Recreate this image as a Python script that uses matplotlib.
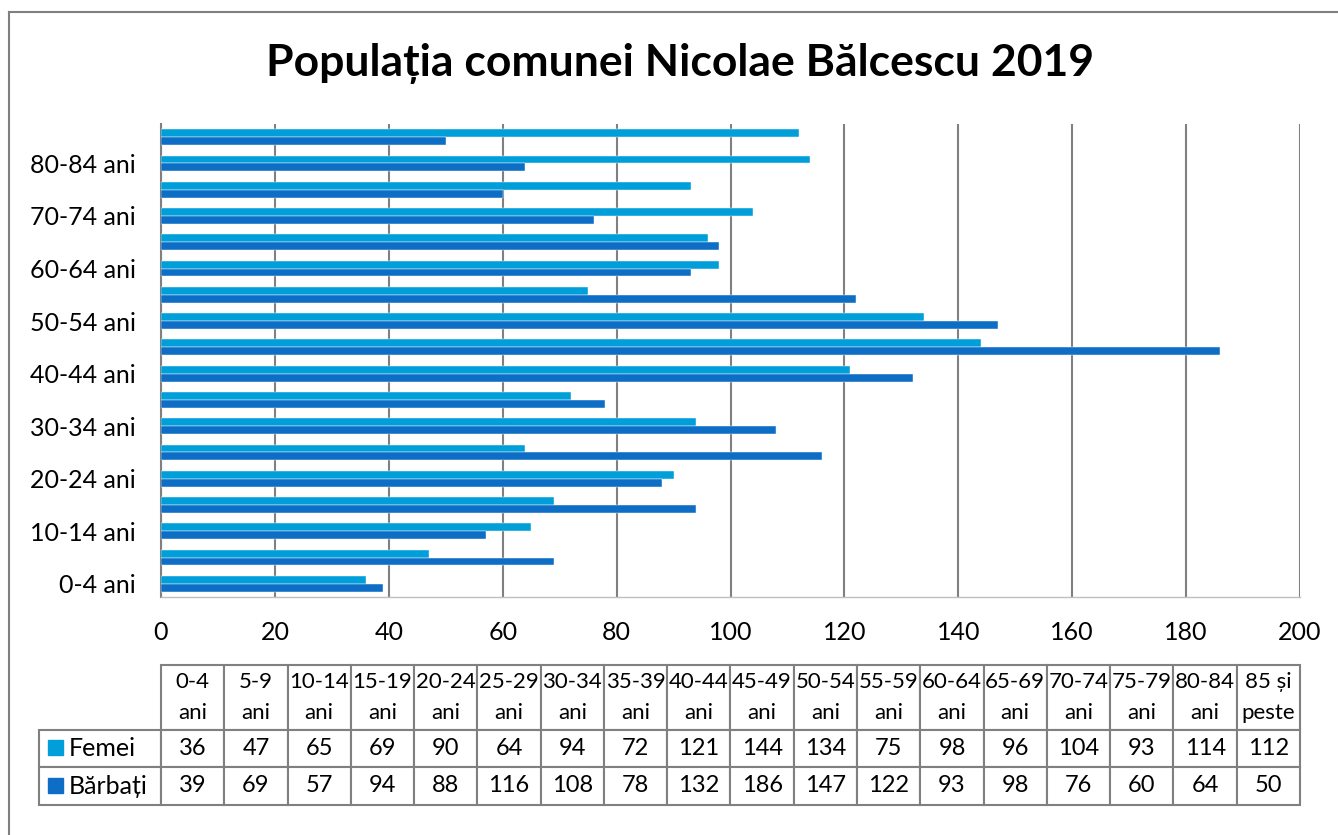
import matplotlib
matplotlib.use("Agg")
import numpy as np
import matplotlib.pyplot as plt
from matplotlib.lines import Line2D

plt.rcParams['font.family'] = ['Lato', 'DejaVu Sans']

categorii = ['0-4 ani', '5-9 ani', '10-14 ani', '15-19 ani', '20-24 ani', '25-29 ani',
             '30-34 ani', '35-39 ani', '40-44 ani', '45-49 ani', '50-54 ani', '55-59 ani',
             '60-64 ani', '65-69 ani', '70-74 ani', '75-79 ani', '80-84 ani', '85 și peste']
antet = ['0-4\nani', '5-9\nani', '10-14\nani', '15-19\nani', '20-24\nani', '25-29\nani',
         '30-34\nani', '35-39\nani', '40-44\nani', '45-49\nani', '50-54\nani', '55-59\nani',
         '60-64\nani', '65-69\nani', '70-74\nani', '75-79\nani', '80-84\nani', '85 și\npeste']
femei = [36, 47, 65, 69, 90, 64, 94, 72, 121, 144, 134, 75, 98, 96, 104, 93, 114, 112]
barbati = [39, 69, 57, 94, 88, 116, 108, 78, 132, 186, 147, 122, 93, 98, 76, 60, 64, 50]
xticks = [0, 20, 40, 60, 80, 100, 120, 140, 160, 180, 200]

c_f = '#009FDA'
c_b = '#0E6EC6'
gri = '#808080'

fig = plt.figure(figsize=(13.38, 8.35), dpi=100)
W, H = 1338, 835
ax = fig.add_axes([161 / W, 1 - 597 / H, 1139 / W, 473 / H])

y = np.arange(len(categorii))
h = 0.3
ax.barh(y + h / 2, femei, height=h, color=c_f, edgecolor='white', linewidth=0.3, zorder=3)
ax.barh(y - h / 2, barbati, height=h, color=c_b, edgecolor='white', linewidth=0.3, zorder=3)

ax.set_xlim(0, 200)
ax.set_ylim(-0.5, len(categorii) - 0.5)
ax.set_xticks(xticks)
ax.set_yticks(y[::2])
ax.set_yticklabels(categorii[::2])
ax.tick_params(axis='both', length=0, labelsize=18)
ax.tick_params(axis='y', pad=18)
ax.tick_params(axis='x', pad=17)
ax.grid(axis='x', color=gri, linewidth=1.5, zorder=0)
for s in ['top', 'right']:
    ax.spines[s].set_visible(False)
ax.spines['left'].set_color(gri)
ax.spines['left'].set_linewidth(1.5)
ax.spines['bottom'].set_color('#BFBFBF')
ax.spines['bottom'].set_linewidth(1)

fig.text(680 / W, 1 - 63 / H, 'Populația comunei Nicolae Bălcescu 2019',
         ha='center', va='center', fontsize=32, fontweight='bold')

# data table
celule = [['Femei'] + [str(v) for v in femei],
          ['Bărbați'] + [str(v) for v in barbati]]
lat0 = 122 / 1139
latc = 1.0 / len(categorii)
x0 = (39 - 161) / 1139
y_sus = (597 - 665) / 473
y_jos = (597 - 805) / 473
tab = ax.table(cellText=celule, colLabels=[''] + antet,
               colWidths=[lat0] + [latc] * len(categorii),
               cellLoc='center', bbox=[x0, y_jos, 1 - x0, y_sus - y_jos])
tab.auto_set_font_size(False)
tab.set_fontsize(17)
inalt = {0: 65, 1: 37, 2: 38}
for (r, c), cell in tab.get_celld().items():
    cell.set_height(inalt[r])
    cell.set_edgecolor(gri)
    cell.set_linewidth(1.5)
    cell.PAD = 0.02
    if r == 0:
        cell.get_text().set_fontsize(16)
        cell.get_text().set_linespacing(1.7)
    if r == 0 and c == 0:
        cell.visible_edges = ''
    if r > 0 and c == 0:
        cell.get_text().set_text('')

# legend keys in table
for i, (nume, col) in enumerate([('Femei', c_f), ('Bărbați', c_b)]):
    yp = 1 - (748 + 38 * i) / H
    fig.patches.append(plt.Rectangle((48 / W, yp - 7 / H), 15 / W, 15 / H,
                                     color=col, transform=fig.transFigure))
    fig.text(69 / W, yp, nume, ha='left', va='center', fontsize=18)

# chart border
fig.add_artist(Line2D([9 / W, 1], [1 - 12 / H, 1 - 12 / H], color=gri, linewidth=1.5))
fig.add_artist(Line2D([9 / W, 9 / W], [0, 1 - 12 / H], color=gri, linewidth=1.5))

fig.savefig('out.png', dpi=100, facecolor='white')
